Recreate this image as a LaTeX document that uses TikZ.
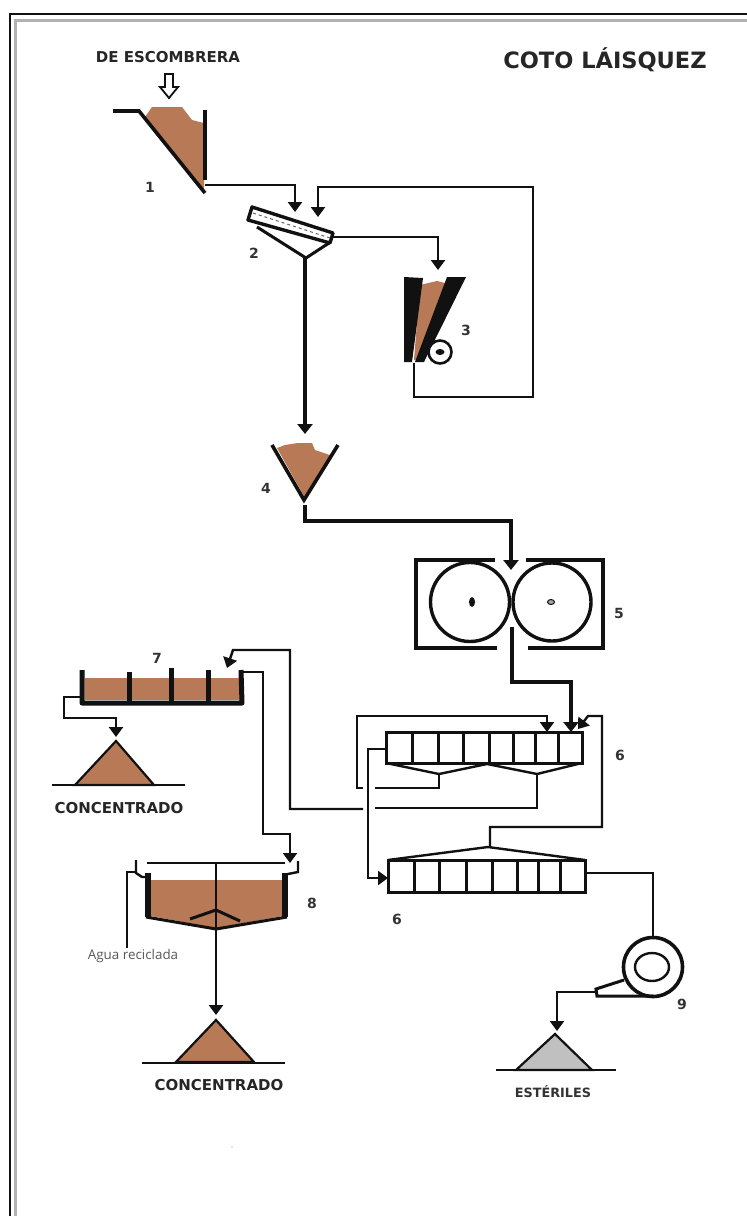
\documentclass[tikz,border=0pt]{standalone}
\usepackage{fontspec}
\setmainfont{Open Sans}
\newfontfamily\hvy{DejaVu Sans}[BoldFont={DejaVu Sans Bold}]
\usetikzlibrary{arrows.meta}
\definecolor{ore}{HTML}{B87A56}
\definecolor{waste}{HTML}{C0C0C0}
\definecolor{ink}{HTML}{111111}
\tikzset{
  flow/.style={draw=ink,line width=2.4pt,line join=miter,-{Triangle[length=10pt,width=14pt]}},
  heavy/.style={draw=ink,line width=3.6pt,-{Triangle[length=10pt,width=15pt]}},
  plain/.style={draw=ink,line width=2.4pt},
  wall/.style={draw=ink,line width=3.6pt,line join=miter},
  num/.style={font=\hvy\bfseries\fontsize{14}{14}\selectfont,text=black!80,inner sep=0pt},
  lab/.style={font=\hvy\bfseries\fontsize{15}{15}\selectfont,text=black!85,inner sep=0pt},
  pile/.style={draw=ink,line width=2.2pt,fill=ore,line join=miter},
}
\begin{document}
\begin{tikzpicture}[x=1pt,y=-1pt]
\useasboundingbox (0,0) rectangle (747,1216);
\fill[white] (0,0) rectangle (747,1216);
\draw[ink,line width=2pt] (10,1216) -- (10,14) -- (747,14);
\draw[black!30,line width=2.4pt] (15.5,1216) -- (15.5,20.5) -- (747,20.5);

% titles
\node[font=\hvy\bfseries\fontsize{22.5}{23}\selectfont,text=black!85,inner sep=0pt] (title) at (605,60) {COTO LÁISQUEZ};
\node[lab] (escombrera) at (168,57) {DE ESCOMBRERA};
\draw[ink,line width=1.8pt,fill=white,line join=miter] (165,74) -- (173,74) -- (173,87) -- (178,87) -- (169,98) -- (160,87) -- (165,87) -- cycle;

% 1 hopper
\fill[ore] (145,117) -- (152,107) -- (182,107) -- (192,120) -- (204,123) -- (204,190) -- cycle;
\draw[wall] (113,111) -- (139,111) -- (205,193);
\draw[wall] (205,110) -- (205,180);
\coordinate (h1out) at (205,185);
\node[num] (n1) at (150,187) {1};

% 2 screen
\draw[ink,line width=3.4pt,line join=round] (252,207) -- (333,233) -- (330,243) -- (248,220) -- cycle;
\draw[black!60,line width=1pt,dashed] (253,213) -- (330,238);
\draw[ink,line width=3pt,line join=miter] (257,227) -- (306,258) -- (329,243);
\coordinate (h2top) at (295,212);
\coordinate (h2rec) at (318,217);
\coordinate (h2r) at (333,237);
\coordinate (h2b) at (305,258);
\node[num] (n2) at (254,253) {2};

\draw[flow] (h1out) -- (295,185) -- (h2top);

% 3 crusher
\fill[ore] (420,285) -- (437,281) -- (445,283) -- (424,360) -- (414,360) -- cycle;
\fill[ink] (404,277) -- (423,278) -- (412,362) -- (404,362) -- cycle;
\fill[ink] (447,277) -- (466,277) -- (424,362) -- (415,362) -- cycle;
\draw[ink,line width=2.6pt,fill=white] (440,352) circle[radius=11.5];
\fill[ink] (440,352) ellipse[x radius=4.5,y radius=3];
\node[num] (n3) at (466,330) {3};
\draw[flow] (h2r) -- (438,237) -- (438,270);
\draw[flow] (414,363) -- (414,397) -- (533,397) -- (533,187) -- (318,187) -- (h2rec);

% 4 hopper
\fill[ore] (277,448) -- (285,445) -- (298,443) -- (312,443) -- (315,450) -- (330,455) -- (305,498) -- cycle;
\draw[wall] (272,445) -- (304,500) -- (338,445);
\node[num] (n4) at (266,488) {4};
\draw[heavy] (h2b) -- (305,434);
\draw[heavy] (305,505) -- (305,521) -- (511,521) -- (511,570);

% 5 rolls
\draw[wall] (495,560) -- (416,560) -- (416,648) -- (497,648);
\draw[wall] (526,560) -- (603,560) -- (603,648) -- (528,648);
\draw[ink,line width=3.4pt] (470,602) circle[radius=39.5];
\draw[ink,line width=3.4pt] (552,602) circle[radius=39];
\fill[ink] (472,602) ellipse[x radius=3,y radius=5];
\draw[ink,line width=1pt,fill=black!35] (551,602) ellipse[x radius=3.5,y radius=2.5];
\node[num] (n5) at (619,613) {5};
\draw[heavy] (512,627) -- (512,682) -- (571,682) -- (571,732);

% 6 upper bank
\foreach \a/\b in {386/412,412/438,438/463,463/489,489/513,513/535,535/558,558/582}{
  \draw[ink,line width=3pt] (\a,732) rectangle (\b,763);
}
\draw[ink,line width=2.4pt,line join=miter] (386,763) -- (439,774) -- (487,764) -- (537,774) -- (582,763);
\node[num] (n6a) at (620,755) {6};

% 6 lower bank
\foreach \a/\b in {388/414,414/439,439/466,466/492,492/517,517/538,538/560,560/585}{
  \draw[ink,line width=3pt] (\a,860) rectangle (\b,892);
}
\draw[ink,line width=2.4pt,line join=miter] (388,860) -- (488,847) -- (585,860);
\node[num] (n6b) at (397,919) {6};

% bank connections
\draw[plain] (439,774) -- (439,788) -- (375,788);
\draw[flow] (363,788) -- (357,788) -- (357,716) -- (547,716) -- (547,732);
\draw[plain] (537,774) -- (537,808) -- (375,808);
\draw[flow] (385,749) -- (368,749) -- (368,878) -- (388,878);
\draw[flow] (490,847) -- (490,827) -- (602,827) -- (602,716) -- (588,716) -- (578,729);

% 7 flotation
\fill[ore] (85,678) rectangle (240,700);
\draw[ink,line width=5pt,line join=round] (82,670) -- (82,703) -- (242,703) -- (241,670);
\foreach \x/\y in {129/672,171/668,208/670}{\draw[ink,line width=5pt] (\x,\y) -- (\x,703);}
\node[num] (n7) at (157,658) {7};
\draw[flow] (363,809) -- (290,809) -- (290,650) -- (233,650) -- (227,668);
\draw[flow] (82,697) -- (64,697) -- (64,718) -- (116,718) -- (116,737);
\draw[pile] (75,785) -- (116,741) -- (154,785) -- cycle;
\draw[plain] (52,785) -- (185,785);
\node[lab] (c1) at (119,808) {CONCENTRADO};

% 8 thickener
\fill[ore] (151,880) -- (282,880) -- (283,916) -- (216,928) -- (151,916) -- cycle;
\draw[plain] (147,863) -- (285,863);
\draw[ink,line width=6pt] (148,873) -- (148,917);
\draw[ink,line width=6pt] (285,873) -- (285,917);
\draw[ink,line width=3pt,line join=miter] (146,917) -- (216,929) -- (287,917);
\draw[ink,line width=3pt,line join=round] (190,919) -- (216,910) -- (240,921);
\draw[plain] (136,860) -- (136,873) -- (142,877) -- (150,877);
\draw[plain] (298,861) -- (298,872) -- (283,875);
\draw[ink,line width=2pt] (136,872) -- (127,872) -- (127,948);
\node[font=\fontsize{13.4}{14}\selectfont,text=black!65,inner sep=0pt] (agua) at (133,956) {Agua reciclada};
\node[num] (n8) at (312,903) {8};
\draw[flow] (243,672) -- (263,672) -- (263,834) -- (290,834) -- (290,863);
\draw[flow] (216,863) -- (216,1015);
\draw[pile] (176,1062) -- (216,1020) -- (254,1062) -- cycle;
\draw[plain] (142,1063) -- (285,1063);
\node[lab] (c2) at (219,1085) {CONCENTRADO};

% 9 cyclone
\draw[plain] (585,873) -- (653,873) -- (653,938);
\draw[ink,line width=3.6pt] (653,967) circle[radius=29.5];
\draw[ink,line width=2.4pt] (652,967) ellipse[x radius=17,y radius=14];
\draw[ink,line width=3pt,line join=miter] (624,980) -- (596,989) -- (597,996) -- (653,996);
\node[num] (n9) at (682,1004) {9};
\draw[flow] (596,992) -- (557,992) -- (557,1031);
\draw[draw=ink,line width=2.2pt,fill=waste,line join=miter] (516,1070) -- (555,1034) -- (592,1070) -- cycle;
\draw[plain] (496,1070) -- (616,1070);
\node[font=\hvy\bfseries\fontsize{12.8}{13}\selectfont,text=black!80,inner sep=0pt] (est) at (553,1092) {ESTÉRILES};
\fill[black!50] (232,1147) circle[radius=0.7];
\end{tikzpicture}
\end{document}
